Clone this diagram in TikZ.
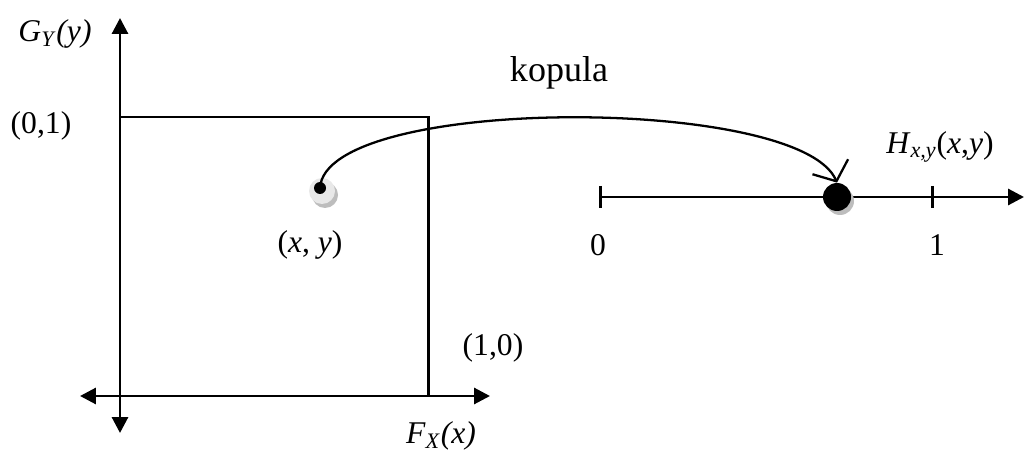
\documentclass[tikz,border=0pt]{standalone}
\usepackage{fontspec}
\setmainfont{Liberation Serif}
\usetikzlibrary{arrows.meta, positioning}
\definecolor{dotShade}{HTML}{BDBDBD}
\definecolor{dotRing}{HTML}{E8E8E8}

\begin{document}
\begin{tikzpicture}[x=0.02cm, y=-0.02cm,
    axis/.style={line width=1.7pt, {Triangle[length=9pt, width=9pt]}-{Triangle[length=9pt, width=9pt]}},
    edge/.style={line width=1.7pt},
    lbl/.style={font=\fontsize{18}{20}\selectfont, inner sep=1pt}]
    \useasboundingbox (0,0) rectangle (1026,452);
    % axes of the unit square
    \coordinate (ytop) at (120,18);
    \coordinate (ybot) at (120,433);
    \coordinate (xleft) at (80,396);
    \coordinate (xright) at (490,396);
    \draw[axis] (ybot) -- (ytop);
    \draw[axis] (xleft) -- (xright);
    \draw[edge] (120,117) -- (428,117) -- (428,396);
    \node[lbl] (gy) at (55,34) {\textit{G}\textsubscript{\textit{Y}}\textit{(y)}};
    \node[lbl] (p01) at (41,126) {(0,1)};
    \node[lbl] (p10) at (493,348) {(1,0)};
    \node[lbl] (fx) at (441,436) {\textit{F}\textsubscript{\textit{X}}\textit{(x)}};
    % the point (x,y)
    \fill[dotShade] (325,195) circle (13);
    \fill[dotRing] (322,191) circle (13);
    \node[circle, fill=black, inner sep=0pt, minimum size=0.24cm] (pt) at (320,188) {};
    \node[lbl] (ptlbl) at (310,245) {(\textit{x}, \textit{y})};
    % number line [0,1]
    \coordinate (nl0) at (600,197);
    \coordinate (nlend) at (1024,197);
    \draw[line width=1.7pt, -{Triangle[length=9pt, width=9pt]}] (nl0) -- (nlend);
    \draw[edge] (600,186) -- (600,208);
    \draw[edge] (932,186) -- (932,208);
    \node[lbl] (zero) at (598,245) {0};
    \node[lbl] (one) at (937,245) {1};
    \fill[dotShade] (840,201) circle (14);
    \node[circle, fill=black, inner sep=0pt, minimum size=0.56cm] (hdot) at (837,197) {};
    \node[lbl] (hlbl) at (940,147) {\textit{H}\textsubscript{\textit{x,y}}(\textit{x},\textit{y})};
    % the copula map
    \draw[line width=1.3pt, -{Straight Barb[length=9pt, width=22pt]}]
      (pt.center) .. controls (325,95) and (800,95) .. (hdot.north);
    \node[lbl, font=\fontsize{20.5}{22}\selectfont] (kop) at (559,73) {kopula};
\end{tikzpicture}
\end{document}
